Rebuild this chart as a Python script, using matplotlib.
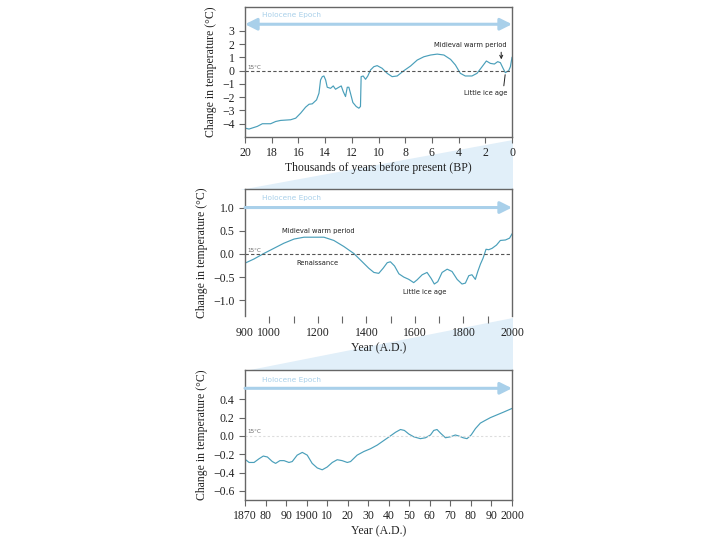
import matplotlib
matplotlib.use('Agg')
import matplotlib.pyplot as plt
from matplotlib.patches import Polygon
import numpy as np

# panel 1: last 20,000 years
kyr = [20, 19.7, 19.08, 18.7, 18.08, 17.7, 17.33, 16.58, 16.2, 15.83, 15.46, 15.2, 14.96,
       14.64, 14.46, 14.34, 14.21, 14.09, 13.96, 13.84, 13.59, 13.39, 13.22, 12.97, 12.79,
       12.64, 12.47, 12.34, 12.22, 12.1, 11.92, 11.67, 11.47, 11.35, 11.3, 11.15, 10.97,
       10.8, 10.6, 10.35, 10.1, 9.73, 9.35, 8.98, 8.6, 8.1, 7.6, 7.1, 6.6, 6.1, 5.6, 5.1,
       4.6, 4.24, 3.87, 3.5, 3.0, 2.62, 2.24, 1.92, 1.62, 1.32, 1.07, 0.87, 0.67, 0.5,
       0.25, 0.12, 0.0]
dT_kyr = [-4.33, -4.4, -4.2, -4.0, -4.0, -3.83, -3.75, -3.7, -3.58, -3.2, -2.75, -2.53, -2.5,
          -2.2, -1.7, -0.7, -0.45, -0.4, -0.7, -1.25, -1.33, -1.15, -1.4, -1.25, -1.15,
          -1.58, -1.95, -1.25, -1.25, -1.7, -2.4, -2.7, -2.83, -2.7, -0.45, -0.4, -0.65,
          -0.4, 0.05, 0.3, 0.38, 0.18, -0.2, -0.45, -0.4, 0.0, 0.35, 0.8, 1.05, 1.18, 1.25, 1.18,
          0.85, 0.43, -0.2, -0.4, -0.4, -0.2, 0.3, 0.73, 0.55, 0.5, 0.68, 0.6, 0.18, -0.15,
          0.0, 0.3, 1.0]

# panel 2: 900-2000 A.D.
yr_mil = [900, 937, 978, 1019, 1060, 1102, 1143, 1184, 1225, 1266, 1307, 1348, 1383, 1410,
          1431, 1451, 1469, 1486, 1499, 1516, 1534, 1554, 1575, 1595, 1609, 1630, 1650, 1667,
          1680, 1694, 1712, 1733, 1753, 1774, 1794, 1808, 1822, 1835, 1849, 1859, 1870, 1881,
          1893, 1904, 1918, 1936, 1952, 1973, 1990, 2000]
dT_mil = [-0.2, -0.11, 0.01, 0.12, 0.23, 0.32, 0.36, 0.36, 0.36, 0.29, 0.16, 0.01, -0.17, -0.31,
          -0.40, -0.42, -0.31, -0.19, -0.17, -0.26, -0.43, -0.50, -0.55, -0.62, -0.56, -0.45, -0.40, -0.53,
          -0.65, -0.60, -0.40, -0.33, -0.38, -0.55, -0.65, -0.63, -0.47, -0.45, -0.55, -0.38, -0.22, -0.09,
          0.10, 0.09, 0.12, 0.19, 0.29, 0.30, 0.34, 0.43]

# panel 3: 1870-2000 A.D.
yr_rec = [1870, 1872, 1874.4, 1876.8, 1878.9, 1880.9, 1883.3, 1884.9, 1887, 1889, 1891.4, 1893,
          1895.4, 1897.9, 1900.3, 1902.7, 1905.2, 1907.6, 1910, 1912.5, 1914.9, 1917.3, 1919.8,
          1921.4, 1924.6, 1927.9, 1931.1, 1934.4, 1937.6, 1940.8, 1943.3, 1945.7, 1947.6, 1949.8,
          1952.2, 1955.4, 1957.9, 1960.3, 1961.9, 1963.5, 1965.2, 1967.6, 1970, 1972.4, 1974,
          1976.2, 1978.1, 1980.1, 1982.2, 1984.6, 1987, 1989.5, 1992.7, 1995.9, 2000]
dT_rec = [-0.255, -0.29, -0.29, -0.25, -0.22, -0.23, -0.28, -0.30, -0.27, -0.27, -0.29, -0.28,
          -0.21, -0.18, -0.21, -0.30, -0.35, -0.37, -0.34, -0.29, -0.26, -0.27, -0.29,
          -0.28, -0.21, -0.17, -0.14, -0.10, -0.05, 0.0, 0.04, 0.07, 0.06, 0.02,
          -0.01, -0.03, -0.02, 0.01, 0.06, 0.07, 0.03, -0.02, -0.01, 0.01, 0.0,
          -0.02, -0.03, 0.01, 0.08, 0.14, 0.17, 0.20, 0.23, 0.26, 0.30]

ticks1 = [20, 18, 16, 14, 12, 10, 8, 6, 4, 2, 0]
yticks1 = [3, 2, 1, 0, -1, -2, -3, -4]
ticks2 = [1000, 1100, 1200, 1300, 1400, 1500, 1600, 1700, 1800, 1900]
tlabels2 = ['1000', '', '1200', '', '1400', '', '1600', '', '1800', '']
ends2 = [900, 2000]
yticks2 = [1.0, 0.5, 0.0, -0.5, -1.0]
ticks3 = list(range(1870, 2001, 10))
tlabels3 = ['1870', '80', '90', '1900', '10', '20', '30', '40', '50', '60', '70', '80', '90', '2000']
yticks3 = [0.4, 0.2, 0.0, -0.2, -0.4, -0.6]

line_c = '#4a9fba'
holo_c = '#a9d0ea'
wedge_c = '#e1eff9'
gray = '#666666'
serif = 'Liberation Serif'

fig = plt.figure(figsize=(7.2, 5.4), dpi=100)
W, H = 720.0, 540.0

# zoom wedges behind the panels
for pts in [[(513, 140), (513, 190), (240, 190)], [(513, 318), (513, 371), (245, 371)]]:
    poly = Polygon([(x / W, 1 - y / H) for x, y in pts], closed=True, transform=fig.transFigure,
                   facecolor=wedge_c, edgecolor='none', zorder=-1)
    fig.patches.append(poly)

ax1 = fig.add_axes([245 / W, 1 - 137 / H, 267 / W, 130 / H])
ax2 = fig.add_axes([245 / W, 1 - 316 / H, 267 / W, 127 / H])
ax3 = fig.add_axes([245 / W, 1 - 500 / H, 267 / W, 130 / H])

for ax in [ax1, ax2, ax3]:
    ax.set_facecolor('white')
    for s in ax.spines.values():
        s.set_color(gray)
        s.set_linewidth(1.0)
    ax.tick_params(direction='out', color=gray, length=4, labelsize=8.5, labelcolor='#222222')
    ax.set_ylabel('Change in temperature (°C)', family=serif, fontsize=8.5, color='#222222', labelpad=4)

cond = dict(family='DejaVu Sans', stretch='condensed', fontsize=5.4, color='#222222')
holo = dict(family='DejaVu Sans', fontsize=5.3, color=holo_c)

# panel 1
ax1.plot(kyr, dT_kyr, color=line_c, lw=0.85)
ax1.axhline(0, color='#555555', lw=0.8, ls=(0, (3, 2)))
ax1.set_xlim(20, 0)
ax1.set_ylim(-5, 4.8)
ax1.set_xticks(ticks1)
ax1.set_yticks(yticks1)
ax1.set_xlabel('Thousands of years before present (BP)', family=serif, fontsize=8.5, color='#222222', labelpad=2)
ax1.annotate('', xy=(1.0, 3.5), xytext=(0.0, 3.5), xycoords=('axes fraction', 'data'),
             arrowprops=dict(arrowstyle='<|-|>,head_width=0.35,head_length=0.7', color=holo_c, lw=2.2, shrinkA=0, shrinkB=0))
ax1.text(0.064, 4.2, 'Holocene Epoch', transform=ax1.get_yaxis_transform(), ha='left', va='center', **holo)
ax1.text(0.01, 0.05, '15°C', transform=ax1.get_yaxis_transform(), ha='left', va='bottom', **dict(cond, fontsize=4.5, color=gray))
ax1.annotate('Midieval warm period', xy=(0.8, 0.75), xytext=(3.1, 1.93), ha='center', va='center',
             arrowprops=dict(arrowstyle='->', color='#222222', lw=0.7, relpos=(0.92, 0.0), shrinkA=1, shrinkB=1), **cond)
ax1.annotate('Little ice age', xy=(0.5, -0.2), xytext=(1.95, -1.68), ha='center', va='center',
             arrowprops=dict(arrowstyle='-', color='#222222', lw=0.7, relpos=(0.9, 1.0), shrinkA=1, shrinkB=1), **cond)

# panel 2
ax2.plot(yr_mil, dT_mil, color=line_c, lw=0.85)
ax2.axhline(0, color='#555555', lw=0.8, ls=(0, (3, 2)))
ax2.set_xlim(900, 2000)
ax2.set_ylim(-1.34, 1.40)
ax2.spines['bottom'].set_visible(False)
ax2.set_xticks(ticks2)
ax2.set_xticklabels(tlabels2)
ax2.set_xticks(ends2, minor=True)
ax2.set_xticklabels(['900', '2000'], minor=True)
ax2.tick_params(axis='x', which='major', direction='out', length=5, color=gray, pad=3)
ax2.tick_params(axis='x', which='minor', length=0, pad=8, labelsize=8.5, labelcolor='#222222')
ax2.set_yticks(yticks2)
ax2.set_yticklabels(['1.0', '0.5', '0.0', '\u22120.5', '\u22121.0'])
ax2.set_xlabel('Year (A.D.)', family=serif, fontsize=8.5, color='#222222', labelpad=2)
ax2.annotate('', xy=(1.0, 1.0), xytext=(0.0, 1.0), xycoords=('axes fraction', 'data'),
             arrowprops=dict(arrowstyle='-|>,head_width=0.35,head_length=0.7', color=holo_c, lw=2.2, shrinkA=0, shrinkB=0))
ax2.text(0.064, 1.2, 'Holocene Epoch', transform=ax2.get_yaxis_transform(), ha='left', va='center', **holo)
ax2.text(0.01, 0.02, '15°C', transform=ax2.get_yaxis_transform(), ha='left', va='bottom', **dict(cond, fontsize=4.5, color=gray))
ax2.text(1200, 0.5, 'Midieval warm period', ha='center', va='center', **cond)
ax2.text(1200, -0.2, 'Renaissance', ha='center', va='center', **cond)
ax2.text(1640, -0.82, 'Little ice age', ha='center', va='center', **cond)

# panel 3
ax3.plot(yr_rec, dT_rec, color=line_c, lw=0.85)
ax3.axhline(0, color='#dddddd', lw=0.8, ls=(0, (2, 2)))
ax3.set_xlim(1870, 2000)
ax3.set_ylim(-0.70, 0.72)
ax3.set_xticks(ticks3)
ax3.set_xticklabels(tlabels3)
ax3.set_yticks(yticks3)
ax3.set_yticklabels(['0.4', '0.2', '0.0', '\u22120.2', '\u22120.4', '\u22120.6'])
ax3.set_xlabel('Year (A.D.)', family=serif, fontsize=8.5, color='#222222', labelpad=2)
ax3.annotate('', xy=(1.0, 0.52), xytext=(0.0, 0.52), xycoords=('axes fraction', 'data'),
             arrowprops=dict(arrowstyle='-|>,head_width=0.35,head_length=0.7', color=holo_c, lw=2.2, shrinkA=0, shrinkB=0))
ax3.text(0.064, 0.61, 'Holocene Epoch', transform=ax3.get_yaxis_transform(), ha='left', va='center', **holo)
ax3.text(0.01, 0.02, '15°C', transform=ax3.get_yaxis_transform(), ha='left', va='bottom', **dict(cond, fontsize=4.5, color=gray))

for ax in [ax1, ax2, ax3]:
    for lab in ax.get_xticklabels() + ax.get_yticklabels() + ax.get_xticklabels(minor=True):
        lab.set_family(serif)

fig.savefig('out.png', dpi=100)
